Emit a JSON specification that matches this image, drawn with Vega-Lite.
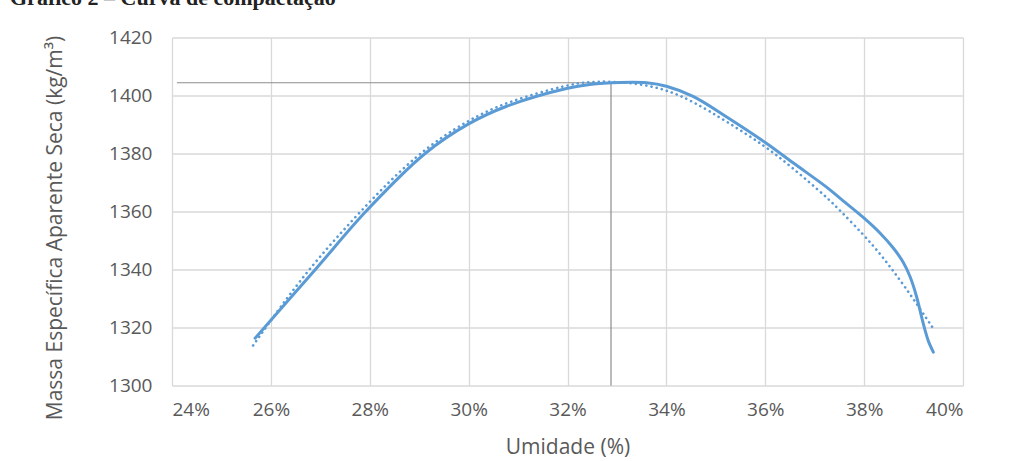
{
  "$schema": "https://vega.github.io/schema/vega-lite/v6.json",
  "width": 791,
  "height": 348,
  "autosize": {"type": "none"},
  "padding": {"left": 172, "top": 37.5, "right": 54, "bottom": 75.5},
  "background": "white",
  "title": {
    "text": "Gráfico 2 – Curva de compactação",
    "anchor": "start",
    "frame": "group",
    "orient": "top",
    "dx": -162,
    "offset": 0,
    "dy": 3,
    "baseline": "bottom",
    "font": "Liberation Serif",
    "fontSize": 22,
    "fontWeight": "bold",
    "color": "#222222"
  },
  "config": {
    "view": {"stroke": null},
    "axis": {
      "labelFont": "Open Sans",
      "titleFont": "Open Sans",
      "labelColor": "#595959",
      "titleColor": "#595959",
      "labelFontSize": 19,
      "titleFontSize": 21,
      "titleFontWeight": "normal",
      "gridColor": "#d9d9d9",
      "gridWidth": 1.3,
      "domain": false,
      "ticks": false
    }
  },
  "datasets": {
    "curvas": [
      {"umidade": 25.68, "massa": 1316.3, "serie": "Dados"},
      {"umidade": 26.9, "massa": 1340.0, "serie": "Dados"},
      {"umidade": 27.92, "massa": 1360.0, "serie": "Dados"},
      {"umidade": 29.12, "massa": 1380.0, "serie": "Dados"},
      {"umidade": 30.0, "massa": 1390.2, "serie": "Dados"},
      {"umidade": 30.77, "massa": 1396.3, "serie": "Dados"},
      {"umidade": 32.0, "massa": 1402.5, "serie": "Dados"},
      {"umidade": 32.45, "massa": 1403.8, "serie": "Dados"},
      {"umidade": 33.06, "massa": 1404.5, "serie": "Dados"},
      {"umidade": 33.6, "massa": 1404.4, "serie": "Dados"},
      {"umidade": 34.0, "massa": 1403.2, "serie": "Dados"},
      {"umidade": 34.54, "massa": 1399.7, "serie": "Dados"},
      {"umidade": 35.22, "massa": 1392.6, "serie": "Dados"},
      {"umidade": 36.0, "massa": 1383.8, "serie": "Dados"},
      {"umidade": 36.57, "massa": 1376.7, "serie": "Dados"},
      {"umidade": 37.24, "massa": 1368.4, "serie": "Dados"},
      {"umidade": 37.51, "massa": 1364.6, "serie": "Dados"},
      {"umidade": 38.0, "massa": 1357.7, "serie": "Dados"},
      {"umidade": 38.32, "massa": 1352.6, "serie": "Dados"},
      {"umidade": 38.59, "massa": 1347.4, "serie": "Dados"},
      {"umidade": 38.79, "massa": 1342.5, "serie": "Dados"},
      {"umidade": 38.93, "massa": 1337.5, "serie": "Dados"},
      {"umidade": 39.06, "massa": 1330.7, "serie": "Dados"},
      {"umidade": 39.16, "massa": 1323.8, "serie": "Dados"},
      {"umidade": 39.23, "massa": 1319.2, "serie": "Dados"},
      {"umidade": 39.3, "massa": 1315.3, "serie": "Dados"},
      {"umidade": 39.4, "massa": 1311.5, "serie": "Dados"},
      {"umidade": 25.64, "massa": 1313.8, "serie": "Tendência"},
      {"umidade": 26.0, "massa": 1322.5, "serie": "Tendência"},
      {"umidade": 26.75, "massa": 1340.0, "serie": "Tendência"},
      {"umidade": 27.8, "massa": 1360.0, "serie": "Tendência"},
      {"umidade": 28.95, "massa": 1380.0, "serie": "Tendência"},
      {"umidade": 30.0, "massa": 1391.7, "serie": "Tendência"},
      {"umidade": 30.77, "massa": 1397.8, "serie": "Tendência"},
      {"umidade": 32.0, "massa": 1403.8, "serie": "Tendência"},
      {"umidade": 32.45, "massa": 1404.7, "serie": "Tendência"},
      {"umidade": 32.85, "massa": 1404.9, "serie": "Tendência"},
      {"umidade": 33.47, "massa": 1404.0, "serie": "Tendência"},
      {"umidade": 34.0, "massa": 1402.0, "serie": "Tendência"},
      {"umidade": 34.54, "massa": 1398.0, "serie": "Tendência"},
      {"umidade": 35.22, "massa": 1391.0, "serie": "Tendência"},
      {"umidade": 36.0, "massa": 1382.6, "serie": "Tendência"},
      {"umidade": 36.57, "massa": 1374.8, "serie": "Tendência"},
      {"umidade": 37.24, "massa": 1365.0, "serie": "Tendência"},
      {"umidade": 37.51, "massa": 1360.4, "serie": "Tendência"},
      {"umidade": 38.0, "massa": 1351.8, "serie": "Tendência"},
      {"umidade": 38.32, "massa": 1345.5, "serie": "Tendência"},
      {"umidade": 38.59, "massa": 1339.5, "serie": "Tendência"},
      {"umidade": 38.86, "massa": 1333.2, "serie": "Tendência"},
      {"umidade": 39.13, "massa": 1326.5, "serie": "Tendência"},
      {"umidade": 39.4, "massa": 1319.6, "serie": "Tendência"}
    ],
    "referencias": [
      {"x": 24.1, "x2": 32.88, "y": 1404.4, "y2": 1404.4},
      {"x": 32.88, "x2": 32.88, "y": 1404.4, "y2": 1300}
    ]
  },
  "layer": [
    {
      "data": {"name": "referencias"},
      "mark": {"type": "rule", "color": "#8c8c8c", "strokeWidth": 1.2},
      "encoding": {
        "x": {
          "field": "x",
          "type": "quantitative",
          "scale": {"domain": [24, 40], "nice": false, "zero": false},
          "axis": {
            "values": [24, 26, 28, 30, 32, 34, 36, 38, 40],
            "labelExpr": "datum.value + '%'",
            "labelPadding": 15,
            "title": "Umidade (%)",
            "titleY": 62,
            "titleBaseline": "middle"
          }
        },
        "x2": {"field": "x2"},
        "y": {
          "field": "y",
          "type": "quantitative",
          "scale": {"domain": [1300, 1420], "nice": false, "zero": false},
          "axis": {
            "values": [1300, 1320, 1340, 1360, 1380, 1400, 1420],
            "format": "d",
            "labelPadding": 20,
            "title": "Massa Específica Aparente Seca (kg/m³)",
            "titleX": -117,
            "titleY": 190,
            "titleBaseline": "middle",
            "titleAlign": "center"
          }
        },
        "y2": {"field": "y2"}
      }
    },
    {
      "data": {"name": "curvas"},
      "transform": [{"filter": "datum.serie === 'Tendência'"}],
      "mark": {
        "type": "line",
        "interpolate": "basis",
        "color": "#5b9bd5",
        "strokeWidth": 2.6,
        "strokeDash": [0.1, 5.2],
        "strokeCap": "round"
      },
      "encoding": {
        "x": {"field": "umidade", "type": "quantitative"},
        "y": {"field": "massa", "type": "quantitative"}
      }
    },
    {
      "data": {"name": "curvas"},
      "transform": [{"filter": "datum.serie === 'Dados'"}],
      "mark": {
        "type": "line",
        "interpolate": "catmull-rom",
        "color": "#5b9bd5",
        "strokeWidth": 3,
        "strokeCap": "round"
      },
      "encoding": {
        "x": {"field": "umidade", "type": "quantitative"},
        "y": {"field": "massa", "type": "quantitative"}
      }
    }
  ]
}
